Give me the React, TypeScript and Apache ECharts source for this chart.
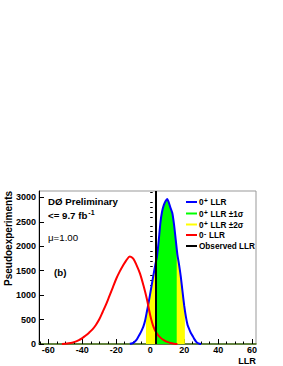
import React, { useEffect, useRef } from "react";
import * as echarts from "echarts";

// 0+ hypothesis LLR distribution (blue)
const blueX = [-12, -11, -10, -9, -8, -7, -6, -5, -4, -3, -2, -1, 0, 1, 2, 3, 4, 5, 6, 7, 8, 9, 10, 11, 12, 13, 14, 15, 16, 17, 18, 19, 20, 21, 22, 23, 24, 25, 26, 27, 28, 29, 30];
const blueY = [3, 10, 25, 50, 90, 150, 210, 280, 360, 480, 655, 835, 1030, 1230, 1430, 1620, 1790, 2110, 2480, 2710, 2840, 2920, 2965, 2890, 2780, 2680, 2450, 2140, 1830, 1620, 1380, 1080, 790, 560, 390, 300, 220, 165, 100, 50, 20, 6, 0];

// 0- hypothesis LLR distribution (red)
const redX = [-52, -50, -48, -46, -44, -42, -40, -38, -36, -34, -32, -30, -28, -26, -24, -22, -20, -18, -16, -14, -12, -10, -8, -6, -4, -2, 0, 2, 4, 6, 8, 10, 12, 14, 16];
const redY = [2, 6, 14, 27, 48, 78, 120, 172, 232, 300, 390, 505, 655, 810, 985, 1160, 1335, 1480, 1605, 1715, 1790, 1745, 1610, 1440, 1200, 925, 590, 345, 210, 130, 78, 42, 20, 7, 0];

// +-1 sigma / +-2 sigma bands of the 0+ distribution: [edge x], [height at edge]
const band1Edges = [3.7, 15.6];
const band1EdgeHeights = [1740, 1955];
const band2Edges = [-2.5, 20.4];
const band2EdgeHeights = [560, 700];

const observedLLR = 3.5;

const xLabelValues = [-60, -40, -20, 0, 20, 40, 60];
const xMinorTicks = [-65, -55, -50, -45, -35, -30, -25, -15, -10, -5, 5, 10, 15, 25, 30, 35, 45, 50, 55];
const yLabelValues = [0, 500, 1000, 1500, 2000, 2500, 3000];
const yMinorTicks = [100, 200, 300, 400, 600, 700, 800, 900, 1100, 1200, 1300, 1400, 1600, 1700, 1800, 1900, 2100, 2200, 2300, 2400, 2600, 2700, 2800, 2900, 3100];

const X_MIN = -65.5;
const X_MAX = 62.3;
const Y_MIN = 0;
const Y_MAX = 3130;

const FONT = "'Liberation Sans', Arial, Helvetica, sans-serif";

function band(edges: number[], heights: number[]) {
  const pts: number[][] = [[edges[0], heights[0]]];
  for (let i = 0; i < blueX.length; i++) {
    if (blueX[i] > edges[0] && blueX[i] < edges[1]) pts.push([blueX[i], blueY[i]]);
  }
  pts.push([edges[1], heights[1]]);
  return pts;
}

export default function App() {
  const ref = useRef<HTMLDivElement>(null);
  useEffect(() => {
    if (!ref.current) return;
    const chart = echarts.init(ref.current, null, { renderer: "svg" });
    const sup = { fontSize: 6.5, fontWeight: "bold", fontFamily: FONT, verticalAlign: "top", fill: "#000", padding: [0, 0.5, 0, 0.5] } as any;
    const legendRows = [
      { color: "#0000ff", text: "0{s|+} LLR", y: 202 },
      { color: "#00ff00", text: "0{s|+} LLR ±1σ", y: 213.5 },
      { color: "#ffff00", text: "0{s|+} LLR ±2σ", y: 224.5 },
      { color: "#ff0000", text: "0{s|-} LLR", y: 235 },
      { color: "#000000", text: "Observed LLR", y: 246 },
    ];
    const graphics: any[] = [];
    legendRows.forEach((r) => {
      graphics.push({
        type: "line",
        shape: { x1: 186, y1: r.y, x2: 197, y2: r.y },
        style: { stroke: r.color, lineWidth: 2 },
        z: 100,
      });
      graphics.push({
        type: "text",
        x: 199,
        y: r.y + 0.5,
        z: 100,
        style: {
          text: r.text,
          fontSize: 8.2,
          fontWeight: "bold",
          fontFamily: FONT,
          fill: "#000",
          verticalAlign: "middle",
          lineHeight: 11,
          rich: { s: sup },
        },
      });
    });
    graphics.push(
      {
        type: "text",
        x: 48,
        y: 201,
        style: { text: "DØ Preliminary", fontSize: 9.7, fontWeight: "bold", fontFamily: FONT, fill: "#000", verticalAlign: "middle" },
      },
      {
        type: "text",
        x: 48,
        y: 215,
        style: {
          text: "<= 9.7 fb{s|-1}",
          fontSize: 9.7,
          fontWeight: "bold",
          fontFamily: FONT,
          fill: "#000",
          verticalAlign: "middle",
          lineHeight: 13,
          rich: { s: { fontSize: 7, fontWeight: "bold", fontFamily: FONT, verticalAlign: "top", fill: "#000", padding: [0, 0, 0, 1] } },
        },
      },
      {
        type: "text",
        x: 48,
        y: 237,
        style: { text: "μ=1.00", fontSize: 9.7, fontFamily: FONT, fill: "#000", verticalAlign: "middle" },
      },
      {
        type: "text",
        x: 54,
        y: 272,
        style: { text: "(b)", fontSize: 9.7, fontWeight: "bold", fontFamily: FONT, fill: "#000", verticalAlign: "middle" },
      },
      {
        type: "text",
        x: 256,
        y: 360.5,
        style: { text: "LLR", fontSize: 9.2, fontWeight: "bold", fontFamily: FONT, fill: "#000", align: "right", verticalAlign: "middle" },
      },
      {
        type: "text",
        x: 8.5,
        y: 286,
        rotation: Math.PI / 2,
        style: { text: "Pseudoexperiments", fontSize: 10, fontWeight: "bold", fontFamily: FONT, fill: "#000", align: "left", verticalAlign: "middle" },
      }
    );

    const labelStyle = { fontSize: 9, fontWeight: "bold", fontFamily: FONT, color: "#000", formatter: (v: number) => String(v) };

    chart.setOption({
      animation: false,
      backgroundColor: "#fff",
      grid: { left: 39, right: 27, top: 191, bottom: 22, show: true, borderColor: "#999", borderWidth: 1, backgroundColor: "transparent" },
      xAxis: [
        {
          type: "value",
          min: X_MIN,
          max: X_MAX,
          position: "bottom",
          axisLine: { show: true, onZero: false, lineStyle: { color: "#3f6a10", width: 1.5 } },
          axisTick: { show: true, inside: true, length: 5, customValues: xLabelValues, lineStyle: { color: "#000" } },
          axisLabel: { show: true, margin: 1, customValues: xLabelValues, ...labelStyle },
          splitLine: { show: false },
        },
        {
          type: "value",
          min: X_MIN,
          max: X_MAX,
          position: "bottom",
          offset: 0,
          axisLine: { show: false },
          axisTick: { show: true, inside: true, length: 2.5, customValues: xMinorTicks, lineStyle: { color: "#000" } },
          axisLabel: { show: false },
          splitLine: { show: false },
        },
      ],
      yAxis: [
        {
          type: "value",
          min: Y_MIN,
          max: Y_MAX,
          position: "left",
          axisLine: { show: true, onZero: false, lineStyle: { color: "#000", width: 1 } },
          axisTick: { show: true, inside: true, length: 5, customValues: yLabelValues, lineStyle: { color: "#000" } },
          axisLabel: { show: true, margin: 3, customValues: yLabelValues, ...labelStyle },
          splitLine: { show: false },
        },
        {
          type: "value",
          min: Y_MIN,
          max: Y_MAX,
          position: "left",
          offset: 0,
          axisLine: { show: false },
          axisTick: { show: true, inside: true, length: 2.5, customValues: yMinorTicks, lineStyle: { color: "#000" } },
          axisLabel: { show: false },
          splitLine: { show: false },
        },
      ],
      series: [
        {
          type: "line",
          name: "0+ LLR ±2σ",
          data: band(band2Edges, band2EdgeHeights),
          showSymbol: false,
          lineStyle: { width: 0 },
          areaStyle: { color: "#ffff00", opacity: 1 },
          z: 1,
        },
        {
          type: "line",
          name: "0+ LLR ±1σ",
          data: band(band1Edges, band1EdgeHeights),
          showSymbol: false,
          lineStyle: { width: 0 },
          areaStyle: { color: "#00ff00", opacity: 1 },
          z: 2,
        },
        {
          type: "line",
          name: "0+ LLR",
          data: blueX.map((x, i) => [x, blueY[i]]),
          showSymbol: false,
          smooth: 0.2,
          lineStyle: { color: "#0000ff", width: 2 },
          z: 3,
        },
        {
          type: "line",
          name: "0- LLR",
          data: redX.map((x, i) => [x, redY[i]]),
          showSymbol: false,
          smooth: 0.3,
          lineStyle: { color: "#ff0000", width: 2 },
          z: 4,
          markLine: {
            silent: true,
            symbol: "none",
            label: { show: false },
            lineStyle: { color: "#000", width: 2, type: "solid" },
            data: [{ xAxis: observedLLR }],
          },
        },
      ],
      graphic: graphics,
    });
    return () => chart.dispose();
  }, []);
  return <div ref={ref} style={{ position: "fixed", left: 0, top: 0, width: 283, height: 366 }} />;
}
